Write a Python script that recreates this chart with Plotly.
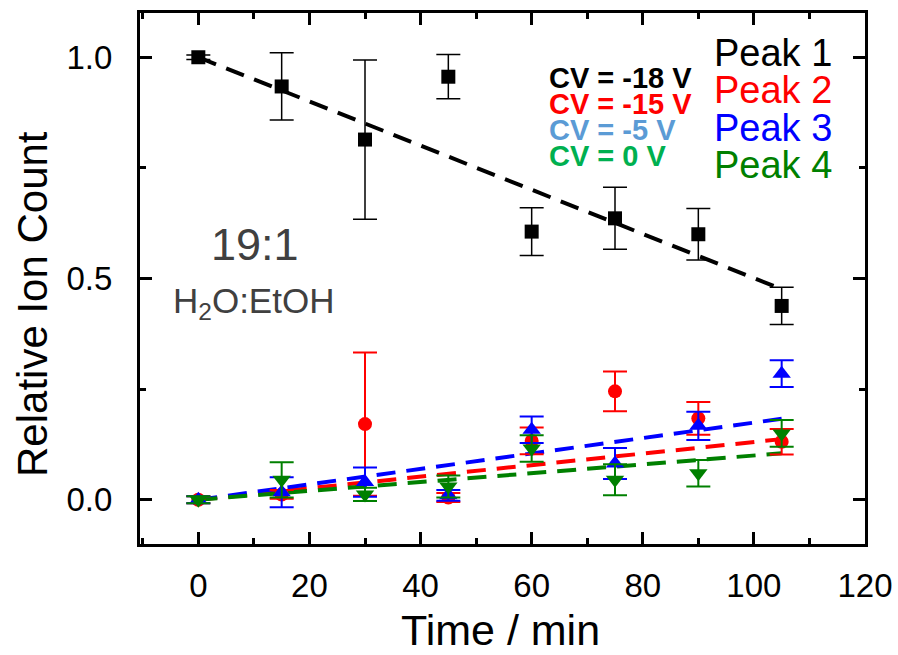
import plotly.graph_objects as go

time = [0, 15, 30, 45, 60, 75, 90, 105]

peak1 = [1.0, 0.934, 0.814, 0.956, 0.606, 0.636, 0.600, 0.438]
peak1_err = [0.005, 0.076, 0.180, 0.050, 0.054, 0.070, 0.058, 0.042]

peak2 = [0.0, 0.012, 0.171, 0.005, 0.133, 0.245, 0.184, 0.131]
peak2_err = [0.008, 0.010, 0.162, 0.010, 0.030, 0.045, 0.037, 0.029]

peak3 = [0.0, 0.017, 0.040, 0.010, 0.158, 0.082, 0.167, 0.285]
peak3_err = [0.008, 0.034, 0.033, 0.012, 0.030, 0.035, 0.032, 0.030]

peak4 = [0.0, 0.045, 0.012, 0.030, 0.116, 0.045, 0.060, 0.150]
peak4_err = [0.008, 0.040, 0.015, 0.025, 0.030, 0.035, 0.030, 0.030]

fit_time = [0, 105]
fit1 = [1.0, 0.476]
fit2 = [0.0, 0.137]
fit3 = [0.0, 0.183]
fit4 = [0.0, 0.105]

peak_names = ["Peak 1", "Peak 2", "Peak 3", "Peak 4"]
peak_colors = ["#000000", "#ff0000", "#0000ff", "#008000"]
cv_labels = ["CV = -18 V", "CV = -15 V", "CV = -5 V", "CV = 0 V"]
cv_colors = ["#000000", "#ff0000", "#5b9bd5", "#00b050"]

x_ticks = [0, 20, 40, 60, 80, 100, 120]
y_ticks = [0.0, 0.5, 1.0]
y_ticklabels = ["0.0", "0.5", "1.0"]

x_title = "Time / min"
y_title = "Relative Ion Count"

FONT = "Liberation Sans, Arial, sans-serif"

# plot area in pixels (for placing free text)
L, R, T, B = 140, 865, 13, 544
def px(x):
    return (x - L) / (R - L)
def py(y):
    return 1 - (y - T) / (B - T)

fig = go.Figure()

# fit lines (drawn first, beneath markers)
for fy, col in [(fit1, peak_colors[0]), (fit2, peak_colors[1]), (fit3, peak_colors[2]), (fit4, peak_colors[3])]:
    fig.add_trace(go.Scatter(x=fit_time, y=fy, mode="lines",
                             line=dict(color=col, width=4, dash="19px,11px"),
                             showlegend=False, hoverinfo="skip"))

series = [
    (peak1, peak1_err, "square", 14, 1.5),
    (peak2, peak2_err, "circle", 14, 2.0),
    (peak3, peak3_err, "triangle-up", 16, 2.0),
    (peak4, peak4_err, "triangle-down", 16, 2.0),
]
for i, (vals, errs, sym, sz, ew) in enumerate(series):
    fig.add_trace(go.Scatter(
        x=time, y=vals, mode="markers", name=peak_names[i],
        marker=dict(symbol=sym, size=sz, color=peak_colors[i], line=dict(width=0)),
        error_y=dict(type="data", array=errs, visible=True, color=peak_colors[i],
                     thickness=ew, width=12),
        showlegend=False))

annotations = []
for i, name in enumerate(peak_names):
    annotations.append(dict(xref="paper", yref="paper", x=px(712), y=py(53 + 37.3 * i),
                            xanchor="left", yanchor="middle", showarrow=False,
                            height=36, valign="middle",
                            text=name, font=dict(family=FONT, size=38, color=peak_colors[i])))
for i, lab in enumerate(cv_labels):
    annotations.append(dict(xref="paper", yref="paper", x=px(547), y=py(77 + 26 * i),
                            xanchor="left", yanchor="middle", showarrow=False,
                            height=25, valign="middle",
                            text="<b>" + lab + "</b>",
                            font=dict(family=FONT, size=29, color=cv_colors[i])))
annotations.append(dict(xref="paper", yref="paper", x=px(255), y=py(244),
                        xanchor="center", yanchor="middle", showarrow=False, text="19:1",
                        font=dict(family=FONT, size=45, color="#404040")))
annotations.append(dict(xref="paper", yref="paper", x=px(253), y=py(303),
                        xanchor="center", yanchor="middle", showarrow=False,
                        text="H<sub>2</sub>O:EtOH",
                        font=dict(family=FONT, size=35, color="#404040")))
annotations.append(dict(xref="paper", yref="paper", x=px(500), y=py(630),
                        xanchor="center", yanchor="middle", showarrow=False, text=x_title,
                        font=dict(family=FONT, size=43, color="black")))
annotations.append(dict(xref="paper", yref="paper", x=px(33), y=py(304),
                        xanchor="center", yanchor="middle", showarrow=False, text=y_title,
                        textangle=-90, font=dict(family=FONT, size=42, color="black")))

axis_common = dict(showline=True, linewidth=3, linecolor="black", mirror="allticks",
                   ticks="inside", ticklen=12, tickwidth=3, tickcolor="black",
                   showgrid=False, zeroline=False, automargin=False,
                   tickfont=dict(family=FONT, size=33, color="black"))

fig.update_layout(
    width=898, height=655,
    margin=dict(l=L, r=898 - R, t=T, b=655 - B, autoexpand=False),
    paper_bgcolor="white", plot_bgcolor="white",
    xaxis=dict(range=[-10.5, 120], tickvals=x_ticks,
               minor=dict(dtick=10, ticks="inside", ticklen=6, tickwidth=3, tickcolor="black"),
               ticklabelstandoff=10, **axis_common),
    yaxis=dict(range=[-0.1, 1.1], tickvals=y_ticks, ticktext=y_ticklabels,
               minor=dict(dtick=0.25, ticks="inside", ticklen=6, tickwidth=3, tickcolor="black"),
               ticklabelstandoff=18, **axis_common),
    annotations=annotations,
    showlegend=False,
)

fig.write_html("out.html")
